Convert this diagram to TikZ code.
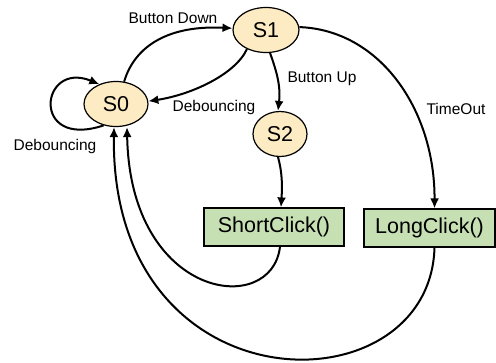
\documentclass[tikz,border=0pt]{standalone}
\usepackage{fontspec}
\setmainfont{Liberation Sans}
\usepackage{tikz}
\usetikzlibrary{arrows.meta,shapes.geometric}

\definecolor{stfill}{HTML}{FDEBC3}
\definecolor{actfill}{HTML}{C6E0B4}

\begin{document}
\begin{tikzpicture}[x=1pt,y=-1pt,
  stnode/.style={ellipse,draw,line width=1.2pt,fill=stfill,inner sep=0pt,
    minimum width=64pt,minimum height=45pt,font=\fontsize{21.5}{24}\selectfont},
  actbox/.style={rectangle,draw,line width=1.2pt,fill=actfill,inner sep=0pt,
    minimum height=38pt,font=\fontsize{21.5}{24}\selectfont},
  lbl/.style={font=\fontsize{15.5}{18}\selectfont,inner sep=1pt},
  tr/.style={line width=2pt,-{Latex[length=10pt,width=9pt]}}]
                 \useasboundingbox (0,0) rectangle (496,362);
                 % states
                 \node[stnode](s0)at(116,104){S0};
                 \node[stnode,minimum width=66pt](s1)at(266,30){S1};
                 \node[stnode,minimum width=54pt](s2)at(280,134){S2};
                 \node[actbox,minimum width=140pt](sc)at(274,227){ShortClick()};
                 \node[actbox,minimum width=131pt](lc)at(429.5,228){LongClick()};
                 % labels
                 \node[lbl](lbd)at(173,18){Button Down};
                 \node[lbl](ldb1)at(55,146){Debouncing};
                 \node[lbl](ldb2)at(214,107){Debouncing};
                 \node[lbl](lbu)at(322,79){Button Up};
                 \node[lbl](lto)at(456,109){TimeOut};
                 % transitions
                 \draw[tr](s0.240) .. controls (30,150) and (40,60) .. (s0.130);
                 \draw[tr](s0.70) .. controls (135,45) and (170,25) .. (s1.177);
                 \draw[tr](s1.225) .. controls (235,75) and (190,95) .. (s0.5);
                 \draw[tr](s1.-80) .. controls (276,70) and (281,85) .. (s2.95);
                 \draw[tr](s1.5) .. controls (380,30) and (435,110) .. ([xshift=5pt]lc.north);
                 \draw[tr](s2.-95) .. controls (283,175) and (282,190) .. ([xshift=7pt]sc.north);
                 \draw[tr]([xshift=6pt]sc.south) .. controls (272,318) and (130,300) .. ([xshift=11pt]s0.south);
                 \draw[tr]([xshift=5pt]lc.south) .. controls (430,412) and (110,412) .. ([xshift=-2pt]s0.south);
               \end{tikzpicture}
\end{document}
